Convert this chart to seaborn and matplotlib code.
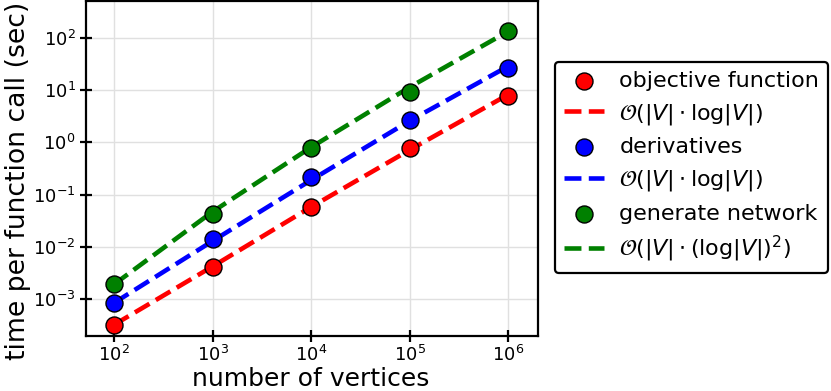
import matplotlib
matplotlib.use("Agg")
import matplotlib.pyplot as plt
import seaborn as sns
import pandas as pd

# ---- data ----
vertices = [1e2, 1e3, 1e4, 1e5, 1e6]
objective = [3.2e-4, 4.1e-3, 0.058, 0.78, 7.8]
derivatives = [8.4e-4, 0.014, 0.22, 2.7, 27.0]
generate = [1.9e-3, 0.043, 0.78, 9.3, 135.0]
objective_fit = [3.2e-4, 4.2e-3, 0.058, 0.72, 8.3]
derivatives_fit = [8.4e-4, 0.0129, 0.19, 2.6, 29.0]
generate_fit = [1.9e-3, 0.047, 0.81, 11.5, 135.0]
yticks = [1e-3, 1e-2, 1e-1, 1e0, 1e1, 1e2]

labels_pts = ["objective function", "derivatives", "generate network"]
labels_fit = [r"$\mathcal{O}(|V| \cdot \log|V|)$",
              r"$\mathcal{O}(|V| \cdot \log|V|)$",
              r"$\mathcal{O}(|V| \cdot (\log|V|)^2)$"]
colors = ["red", "blue", "green"]

sns.set_style("white")
plt.rcParams["font.family"] = ["DejaVu Sans"]
plt.rcParams["text.color"] = "black"
plt.rcParams["axes.labelcolor"] = "black"
plt.rcParams["xtick.color"] = "black"
plt.rcParams["ytick.color"] = "black"

W, H = 831, 391
fig = plt.figure(figsize=(W / 100, H / 100), dpi=100)
ax = fig.add_axes([86 / W, 1 - 336 / H, (538 - 86) / W, (336 - 1) / H])

pts = [objective, derivatives, generate]
fits = [objective_fit, derivatives_fit, generate_fit]
for i in range(3):
    dfp = pd.DataFrame({"x": vertices, "y": pts[i]})
    dff = pd.DataFrame({"x": vertices, "y": fits[i]})
    sns.lineplot(data=dff, x="x", y="y", ax=ax, color=colors[i], lw=3.3,
                 linestyle="--", label=labels_fit[i], zorder=2)
    sns.scatterplot(data=dfp, x="x", y="y", ax=ax, color=colors[i], s=150,
                    edgecolor="black", linewidth=1.0, label=labels_pts[i], zorder=3)

ax.set_xscale("log")
ax.set_yscale("log")
ax.set_xlim(10 ** 1.716, 10 ** 6.30)
ax.set_ylim(10 ** -3.71, 10 ** 2.71)
ax.set_xticks(vertices)
ax.set_yticks(yticks)
ax.minorticks_off()
ax.grid(True, color="#e0e0e0", linewidth=1.0)
ax.set_axisbelow(True)
for s in ax.spines.values():
    s.set_linewidth(1.6)
    s.set_color("black")
ax.tick_params(axis="both", which="major", direction="inout", length=9, width=1.6,
               labelsize=13, colors="black", bottom=True, left=True,
               top=False, right=False)
ax.tick_params(axis="y", pad=3)
ax.tick_params(axis="x", pad=2)

ax.set_xlabel("number of vertices", fontsize=18, color="black")
ax.xaxis.label.set_va("baseline")
ax.xaxis.set_label_coords(0.498, (336 - 386) / 335)
ax.set_ylabel("time per function call (sec)", fontsize=19.2, color="black")
ax.yaxis.label.set_va("baseline")
ax.yaxis.set_label_coords((25 - 86) / 452, (336 - 181) / 335)

h, l = ax.get_legend_handles_labels()
ax.get_legend().remove()
# reorder: points first, then the fitted line, for each series
new_h = [h[1], h[0], h[3], h[2], h[5], h[4]]
new_l = [l[1], l[0], l[3], l[2], l[5], l[4]]
leg = fig.legend(new_h, new_l, loc="upper left", bbox_to_anchor=(555 / W, 1 - 62 / H),
                 fontsize=16, frameon=True, fancybox=True, edgecolor="black",
                 framealpha=1, borderaxespad=0, borderpad=0.4, handlelength=1.8,
                 handletextpad=0.7, labelspacing=0.48, labelcolor="black")
leg.get_frame().set_linewidth(1.6)

fig.savefig("out.png", dpi=100)
